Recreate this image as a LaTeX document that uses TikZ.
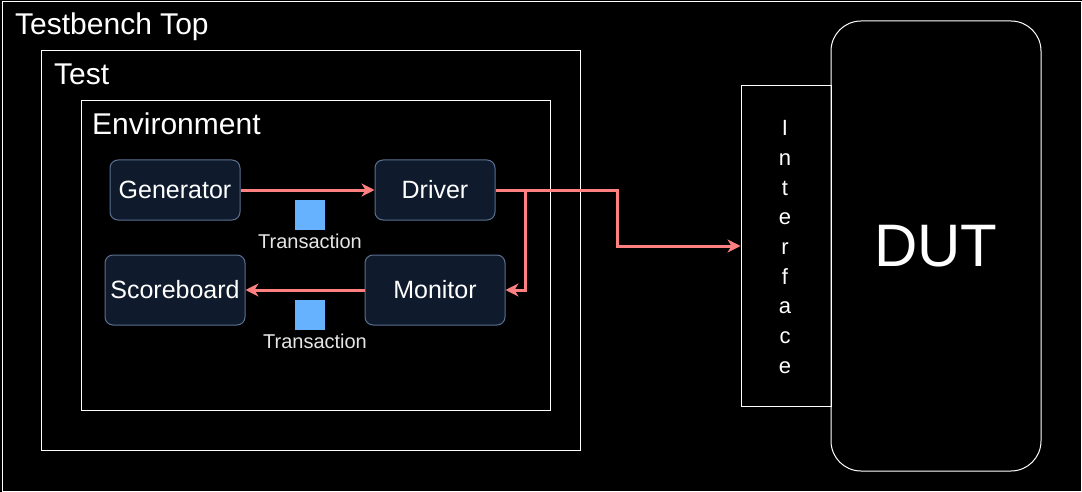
\documentclass[tikz,border=0pt]{standalone}
\usepackage{fontspec}
\setmainfont{Liberation Sans}
\usetikzlibrary{arrows.meta}
\definecolor{boxfill}{HTML}{0F1B2D}
\definecolor{boxline}{HTML}{5A7090}
\definecolor{arrowc}{HTML}{FF8080}
\definecolor{tcol}{HTML}{66B2FF}
\definecolor{lbl}{HTML}{E6E6E6}
\begin{document}
\begin{tikzpicture}[x=1pt,y=-1pt,
  frame/.style={draw=white, line width=1pt, inner sep=0pt, anchor=north west},
  blk/.style={draw=boxline, fill=boxfill, rounded corners=8pt, line width=1pt, text=white, inner sep=0pt, font=\fontsize{25}{28}\selectfont},
  link/.style={draw=arrowc, line width=3pt, -{Stealth[length=13pt,width=13pt,inset=4pt]}},
  title/.style={anchor=base west, inner sep=0pt, text=white, font=\fontsize{30}{34}\selectfont},
  token/.style={fill=tcol, minimum size=30pt, inner sep=0pt},
  tlabel/.style={text=lbl, inner sep=0pt, font=\fontsize{20}{22}\selectfont}]
\useasboundingbox (0,0) rectangle (1082,492);
\fill[black] (0,0) rectangle (1082,492);
% frames
\node[frame, minimum width=1079pt, minimum height=489pt] (tb) at (1.5,1.5) {};
\node[frame, minimum width=539pt, minimum height=399pt] (test) at (40.5,50.5) {};
\node[frame, minimum width=469pt, minimum height=309pt] (env) at (80.5,100.5) {};
\node[title] (ttb) at (15,35) {Testbench Top};
\node[title] (ttest) at (54,85) {Test};
\node[title] (tenv) at (92,135) {Environment};
% blocks
\node[blk, minimum width=130pt, minimum height=60pt] (gen) at (175,190) {Generator};
\node[blk, minimum width=120pt, minimum height=60pt] (drv) at (435,190) {Driver};
\node[blk, minimum width=140pt, minimum height=70pt] (sb) at (175,290) {Scoreboard};
\node[blk, minimum width=140pt, minimum height=70pt] (mon) at (435,290) {Monitor};
% transactions
\node[token] (tk1) at (310,215) {};
\node[tlabel] (tl1) at (310,241) {Transaction};
\node[token] (tk2) at (310,315) {};
\node[tlabel] (tl2) at (315,341) {Transaction};
% interface and DUT
\node[frame, minimum width=90pt, minimum height=320pt] (ifc) at (740.5,85.5) {};
\node[text=white, align=center, inner sep=0pt, font=\fontsize{22}{29.7}\selectfont] (ifct) at (785,247) {I\\n\\t\\e\\r\\f\\a\\c\\e};
\node[frame, minimum width=210pt, minimum height=450pt, rounded corners=30pt] (dut) at (830.5,20.5) {};
\node[text=white, inner sep=0pt, font=\fontsize{60}{64}\selectfont] (dutt) at (dut.center) {DUT};
% connectors
\coordinate (j1) at (617,190);
\coordinate (j2) at (525,190);
\draw[link] (gen.east) -- (drv.west);
\draw[link] (drv.east) -- (j1) |- (ifc.west);
\draw[link] (drv.east) -- (j2) |- (mon.east);
\draw[link] (mon.west) -- (sb.east);
\end{tikzpicture}
\end{document}
